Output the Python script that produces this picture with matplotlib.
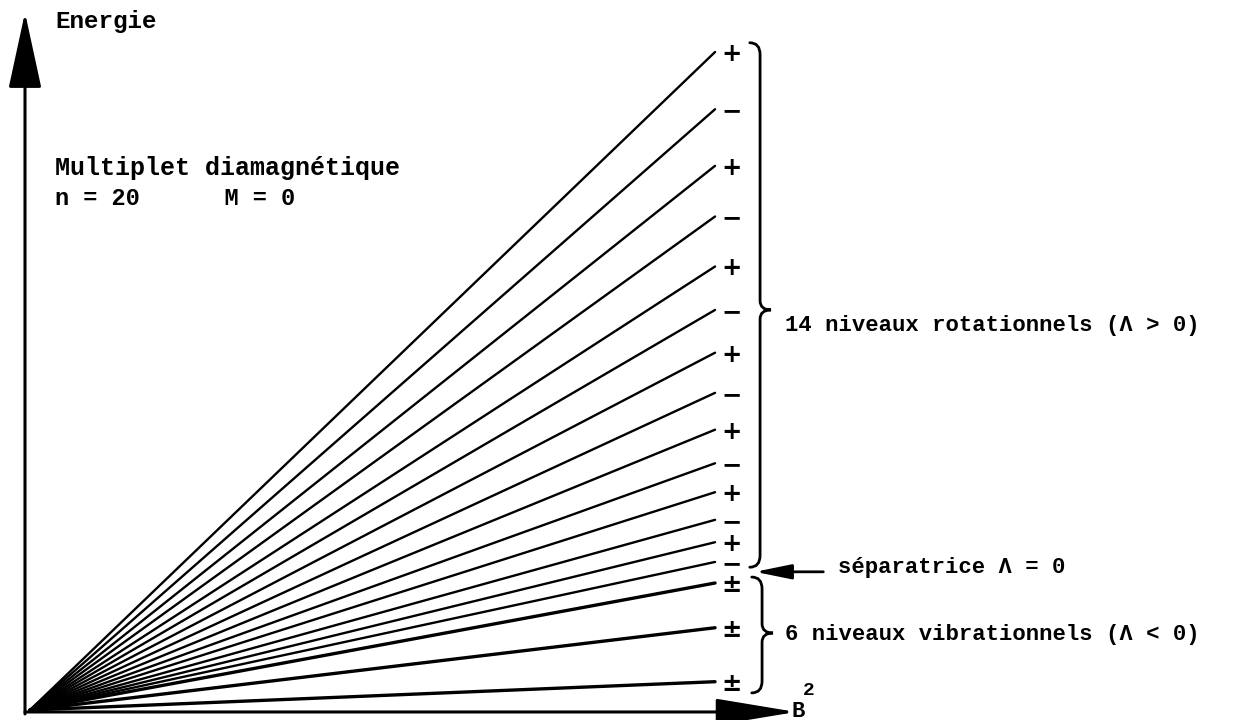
import matplotlib.pyplot as plt
from matplotlib.path import Path
from matplotlib.patches import PathPatch

# energy of each level at B^2 = 1 (arbitrary units, top level = 100)
rot_levels = [100.0, 91.3, 82.7, 75.0, 67.4, 60.8, 54.3, 48.2, 42.6, 37.5, 33.1, 28.9, 25.5, 22.5]
rot_parity = ['+', '−', '+', '−', '+', '−', '+', '−', '+', '−', '+', '−', '+', '−']
vib_levels = [19.3, 12.5, 4.3]
vib_parity = ['±', '±', '±']
separatrix = 21.0

MONO = 'Liberation Mono'

fig = plt.figure(figsize=(12.59, 7.2), dpi=100)
ax = fig.add_axes([0, 0, 1, 1])
ax.set_xlim(-0.0438, 1.794)
ax.set_ylim(-1.52, 107.9)
ax.axis('off')

# fan of levels, all starting at the origin
for e in rot_levels:
    ax.plot([0, 1], [0, e], color='black', lw=1.7, solid_capstyle='round')
for e in vib_levels:
    ax.plot([0, 1], [0, e], color='black', lw=2.4, solid_capstyle='round')

for e, s in zip(rot_levels + vib_levels, rot_parity + vib_parity):
    ax.text(1.0248, e - 0.3, s, ha='center', va='center', fontsize=17.5,
            fontweight='bold', family='DejaVu Sans')

# axes with arrows
ax.annotate('', xy=(-0.0073, 106.0), xytext=(-0.0073, -0.6),
            arrowprops=dict(arrowstyle='-|>,head_length=4.8,head_width=1.04',
                            mutation_scale=10, lw=2.2, color='black',
                            shrinkA=0, shrinkB=0))
ax.annotate('', xy=(1.1182, -0.3), xytext=(-0.0073, -0.3),
            arrowprops=dict(arrowstyle='-|>,head_length=5.0,head_width=0.83',
                            mutation_scale=10, lw=2.2, color='black',
                            shrinkA=0, shrinkB=0))
ax.text(1.111, -0.3, 'B', ha='left', va='center', fontsize=16, family=MONO,
        fontweight='bold')
ax.text(1.128, 3.0, '2', ha='left', va='center', fontsize=14, family=MONO,
        fontweight='bold')


def brace(x, top, bot, mid, w_end=0.015, w_tip=0.016, h_end=1.8, h_tip=1.4):
    verts = [(x - w_end, top), (x, top), (x, top - h_end),
             (x, mid + h_tip),
             (x, mid), (x + w_tip, mid),
             (x, mid), (x, mid - h_tip),
             (x, bot + h_end),
             (x, bot), (x - w_end, bot)]
    codes = [Path.MOVETO, Path.CURVE3, Path.CURVE3, Path.LINETO,
             Path.CURVE3, Path.CURVE3, Path.CURVE3, Path.CURVE3,
             Path.LINETO, Path.CURVE3, Path.CURVE3]
    ax.add_patch(PathPatch(Path(verts, codes), fill=False, lw=2.0,
                           edgecolor='black', capstyle='round'))


brace(1.0657, 101.4, 21.7, 60.8)
brace(1.0686, 20.2, 2.6, 11.7)

ax.annotate('', xy=(1.0584, separatrix), xytext=(1.158, separatrix),
            arrowprops=dict(arrowstyle='-|>,head_length=2.2,head_width=0.45',
                            mutation_scale=10, lw=2.0, color='black',
                            shrinkA=0, shrinkB=0))

txt = dict(family=MONO, fontweight='bold', ha='left', va='center')
ax.text(0.0365, 104.6, 'Energie', fontsize=17.5, **txt)
ax.text(0.0365, 82.4, 'Multiplet diamagnétique', fontsize=18, **txt)
ax.text(0.0365, 77.8, 'n = 20      M = 0', fontsize=17, **txt)
ax.text(1.102, 58.5, '14 niveaux rotationnels (Λ > 0)', fontsize=16, **txt)
ax.text(1.1796, 21.7, 'séparatrice Λ = 0', fontsize=16, **txt)
ax.text(1.102, 11.5, '6 niveaux vibrationnels (Λ < 0)', fontsize=16, **txt)

fig.savefig('out.png', dpi=100)
